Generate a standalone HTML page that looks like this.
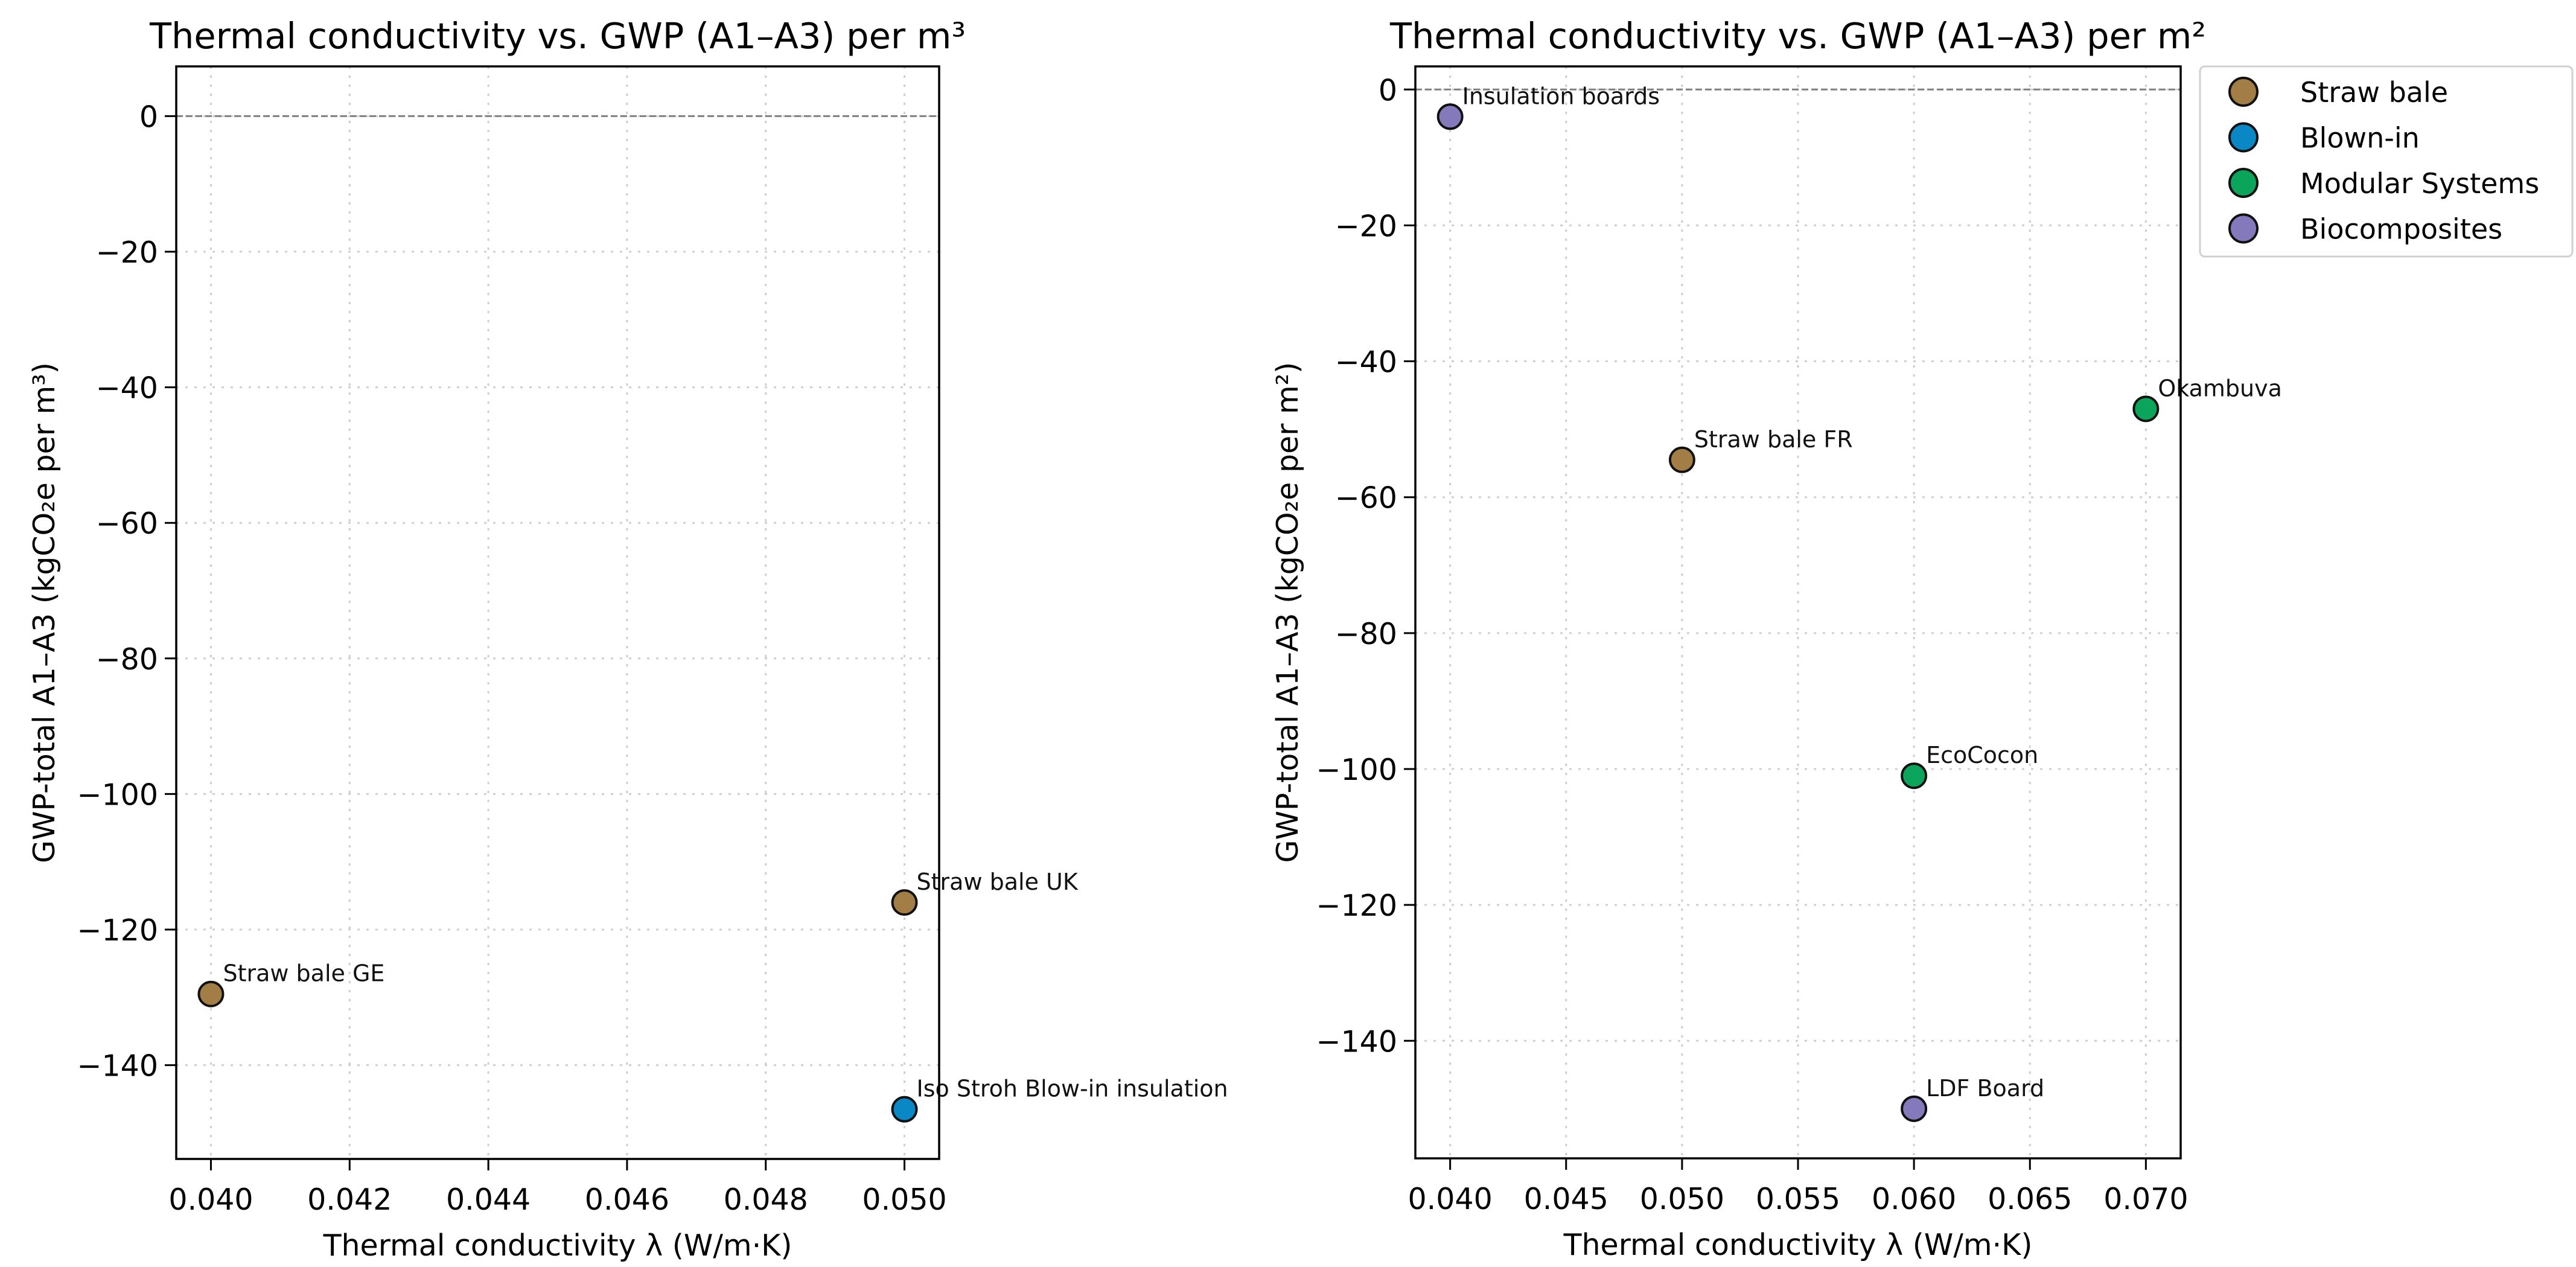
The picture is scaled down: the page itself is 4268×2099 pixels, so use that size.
<!DOCTYPE html>
<html><head><meta charset="utf-8"><style>
html,body{margin:0;padding:0;background:#fff}
svg{display:block;font-family:"DejaVu Sans","Liberation Sans",sans-serif}
</style></head><body>
<svg id="chart" width="4268" height="2099" viewBox="0 0 4268 2099" xmlns="http://www.w3.org/2000/svg">
<rect width="4268" height="2099" fill="#fff"/>
</svg>
<script>
// Left panel data (per m3)
const leftX = [0.040, 0.050, 0.050];
const leftY = [-129.5, -116, -146.5];
const leftLabels = ["Straw bale GE", "Straw bale UK", "Iso Stroh Blow-in insulation"];
const leftCats = ["Straw bale", "Straw bale", "Blown-in"];
const leftXTicks = [0.040, 0.042, 0.044, 0.046, 0.048, 0.050];
const leftYTicks = [0, -20, -40, -60, -80, -100, -120, -140];
// Right panel data (per m2)
const rightX = [0.040, 0.050, 0.070, 0.060, 0.060];
const rightY = [-4, -54.5, -47, -101, -150];
const rightLabels = ["Insulation boards", "Straw bale FR", "Okambuva", "EcoCocon", "LDF Board"];
const rightCats = ["Biocomposites", "Straw bale", "Modular Systems", "Modular Systems", "Biocomposites"];
const rightXTicks = [0.040, 0.045, 0.050, 0.055, 0.060, 0.065, 0.070];
const rightYTicks = [0, -20, -40, -60, -80, -100, -120, -140];
const legendCats = ["Straw bale", "Blown-in", "Modular Systems", "Biocomposites"];
const catColors = {"Straw bale":"#a37d46","Blown-in":"#0a88c6","Modular Systems":"#0aa55a","Biocomposites":"#8379bb"};

const NS = "http://www.w3.org/2000/svg";
const svg = document.getElementById('chart');
function mk(tag, attrs, parent){
  const e = document.createElementNS(NS, tag);
  for (const k in attrs) e.setAttribute(k, attrs[k]);
  (parent||svg).appendChild(e); return e;
}
function fmtX(v, d){ return v.toFixed(d); }
function fmtY(v){ return v < 0 ? "\u2212" + Math.abs(v) : String(v); }

function panel(cfg){
  const g = mk('g', {});
  
  
  const {L,R,T,B,xmin,xmax,ymin,ymax} = cfg;
  const sx = v => L + (v - xmin) / (xmax - xmin) * (R - L);
  const sy = v => B - (v - ymin) / (ymax - ymin) * (B - T);
  cfg.xTicks.forEach(t => {
    const l = mk('line', {x1:sx(t), x2:sx(t), y1:T, y2:B, stroke:'#cfcfcf', 'stroke-width':3, 'stroke-dasharray':'4,11'}, g);
    
    
  });
  cfg.yTicks.forEach(t => {
    const l = mk('line', {x1:L, x2:R, y1:sy(t), y2:sy(t), stroke:'#cfcfcf', 'stroke-width':3, 'stroke-dasharray':'4,11'}, g);
    
    
  });
  const z = mk('line', {x1:L, x2:R, y1:sy(0), y2:sy(0), stroke:'#808080', 'stroke-width':3, 'stroke-dasharray':'11,5'}, g);
  
  
  cfg.xs.forEach((x, i) => {
    const c = mk('circle', {cx:sx(x), cy:sy(cfg.ys[i]), r:20, fill:catColors[cfg.cats[i]], stroke:'#111', 'stroke-width':4}, g);
    
    
    const tx = mk('text', {x:sx(x)+20, y:sy(cfg.ys[i])-21, 'font-size':38, fill:'#111'}, g);
    tx.textContent = cfg.labels[i];
    
    
  });
  const f = mk('rect', {x:L, y:T, width:R-L, height:B-T, fill:'none', stroke:'#000', 'stroke-width':3.5}, g);
  
  
  cfg.xTicks.forEach(t => {
    mk('line', {x1:sx(t), x2:sx(t), y1:B, y2:B+19, stroke:'#000', 'stroke-width':3}, g);
    const tx = mk('text', {x:sx(t), y:B+84, 'font-size':49, 'text-anchor':'middle', fill:'#000'}, g);
    tx.textContent = fmtX(t, 3);
    
    
  });
  cfg.yTicks.forEach(t => {
    mk('line', {x1:L-19, x2:L, y1:sy(t), y2:sy(t), stroke:'#000', 'stroke-width':3}, g);
    const tx = mk('text', {x:L-30, y:sy(t)+18, 'font-size':49, 'text-anchor':'end', fill:'#000'}, g);
    tx.textContent = fmtY(t);
    
    
  });
  const xt = mk('text', {x:(L+R)/2, y:B+160, 'font-size':49, 'text-anchor':'middle', fill:'#000'}, g);
  xt.textContent = "Thermal conductivity \u03bb (W/m\u00b7K)";
  
  
  const yt = mk('text', {x:0, y:0, 'font-size':49, 'text-anchor':'middle', fill:'#000', transform:`translate(${cfg.ylabX},${(T+B)/2}) rotate(-90)`}, g);
  yt.textContent = cfg.ylabel;
  
  
  const tt = mk('text', {x:(L+R)/2, y:80, 'font-size':59, 'text-anchor':'middle', fill:'#000'}, g);
  tt.textContent = cfg.title;
  
  
}

panel({name:'left-panel', L:292, R:1556, T:110, B:1920, xmin:0.0395, xmax:0.0505, ymin:-153.83, ymax:7.33,
  xs:leftX, ys:leftY, labels:leftLabels, cats:leftCats, xTicks:leftXTicks, yTicks:leftYTicks,
  ylabX:90, ylabel:"GWP-total A1\u2013A3 (kgCO\u2082e per m\u00b3)", title:"Thermal conductivity vs. GWP (A1\u2013A3) per m\u00b3"});
panel({name:'right-panel', L:2345, R:3613, T:110, B:1919, xmin:0.0385, xmax:0.0715, ymin:-157.3, ymax:3.4,
  xs:rightX, ys:rightY, labels:rightLabels, cats:rightCats, xTicks:rightXTicks, yTicks:rightYTicks,
  ylabX:2150, ylabel:"GWP-total A1\u2013A3 (kgCO\u2082e per m\u00b2)", title:"Thermal conductivity vs. GWP (A1\u2013A3) per m\u00b2"});

const lg = mk('g', {});


const lb = mk('rect', {x:3645, y:110, width:617, height:315, rx:8, fill:'#fff', stroke:'#d0d0d0', 'stroke-width':3}, lg);


legendCats.forEach((c, i) => {
  const y = 152 + i * 75.5;
  const m = mk('circle', {cx:3717, cy:y, r:23, fill:catColors[c], stroke:'#111', 'stroke-width':4}, lg);
  
  
  const t = mk('text', {x:3811, y:y+17, 'font-size':46, fill:'#000'}, lg);
  t.textContent = c;
  
  
});
</script>
</body></html>
